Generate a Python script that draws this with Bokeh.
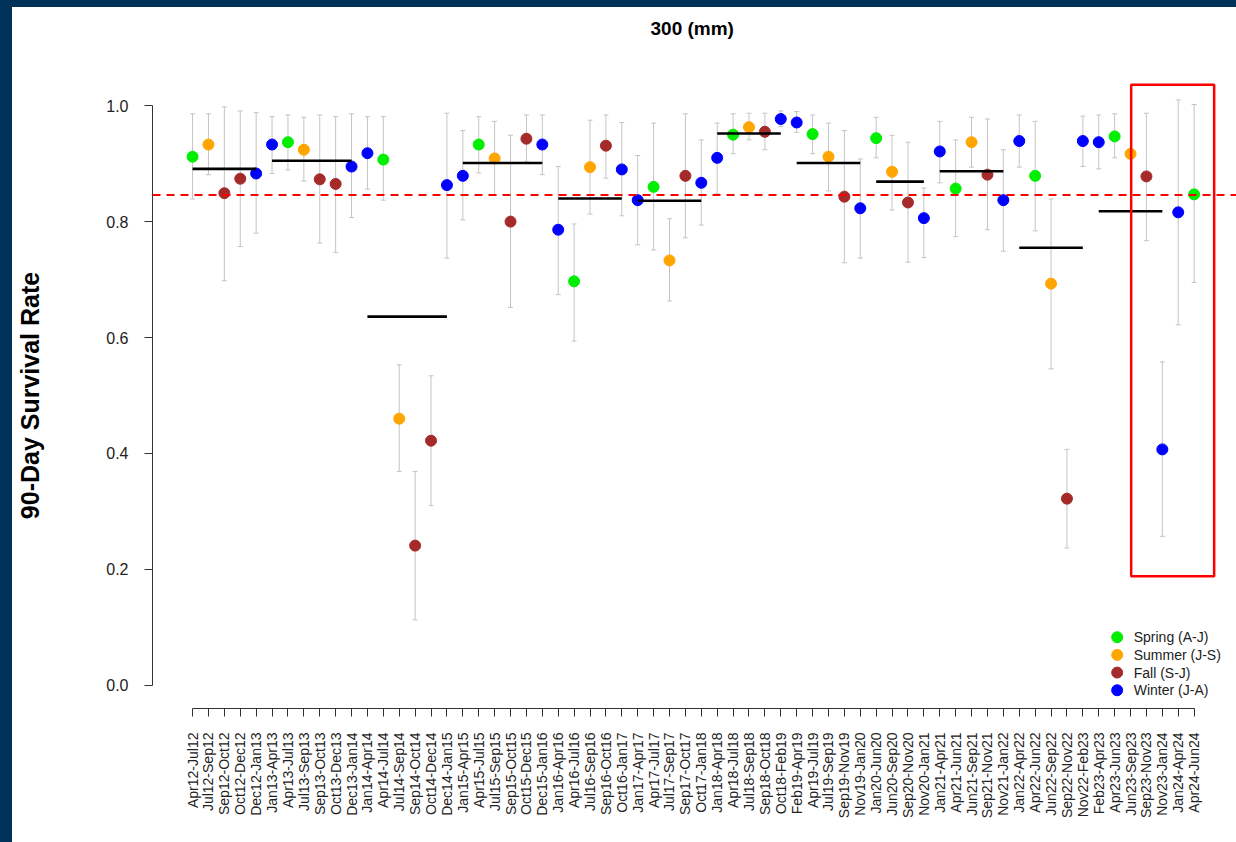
import math
from bokeh.plotting import figure
from bokeh.models import (ColumnDataSource, Range1d, FixedTicker, NumeralTickFormatter,
                          Whisker, TeeHead, Span, LinearAxis)
from bokeh.core.properties import value
from bokeh.embed import file_html
from bokeh.resources import INLINE

# ---------------- data ----------------
periods = [
    "Apr12-Jul12", "Jul12-Sep12", "Sep12-Oct12", "Oct12-Dec12", "Dec12-Jan13",
    "Jan13-Apr13", "Apr13-Jul13", "Jul13-Sep13", "Sep13-Oct13", "Oct13-Dec13", "Dec13-Jan14",
    "Jan14-Apr14", "Apr14-Jul14", "Jul14-Sep14", "Sep14-Oct14", "Oct14-Dec14", "Dec14-Jan15",
    "Jan15-Apr15", "Apr15-Jul15", "Jul15-Sep15", "Sep15-Oct15", "Oct15-Dec15", "Dec15-Jan16",
    "Jan16-Apr16", "Apr16-Jul16", "Jul16-Sep16", "Sep16-Oct16", "Oct16-Jan17",
    "Jan17-Apr17", "Apr17-Jul17", "Jul17-Sep17", "Sep17-Oct17", "Oct17-Jan18",
    "Jan18-Apr18", "Apr18-Jul18", "Jul18-Sep18", "Sep18-Oct18", "Oct18-Feb19",
    "Feb19-Apr19", "Apr19-Jul19", "Jul19-Sep19", "Sep19-Nov19", "Nov19-Jan20",
    "Jan20-Jun20", "Jun20-Sep20", "Sep20-Nov20", "Nov20-Jan21",
    "Jan21-Apr21", "Apr21-Jun21", "Jun21-Sep21", "Sep21-Nov21", "Nov21-Jan22",
    "Jan22-Apr22", "Apr22-Jun22", "Jun22-Sep22", "Sep22-Nov22", "Nov22-Feb23",
    "Feb23-Apr23", "Apr23-Jun23", "Jun23-Sep23", "Sep23-Nov23", "Nov23-Jan24",
    "Jan24-Apr24", "Apr24-Jun24",
]

seasons = [
    "Spring", "Summer", "Fall", "Fall", "Winter",
    "Winter", "Spring", "Summer", "Fall", "Fall", "Winter",
    "Winter", "Spring", "Summer", "Fall", "Fall", "Winter",
    "Winter", "Spring", "Summer", "Fall", "Fall", "Winter",
    "Winter", "Spring", "Summer", "Fall", "Winter",
    "Winter", "Spring", "Summer", "Fall", "Winter",
    "Winter", "Spring", "Summer", "Fall", "Winter",
    "Winter", "Spring", "Summer", "Fall", "Winter",
    "Spring", "Summer", "Fall", "Winter",
    "Winter", "Spring", "Summer", "Fall", "Winter",
    "Winter", "Spring", "Summer", "Fall", "Winter",
    "Winter", "Spring", "Summer", "Fall", "Winter",
    "Winter", "Spring",
]

survival = [
    0.912, 0.933, 0.849, 0.874, 0.883,
    0.933, 0.937, 0.924, 0.873, 0.865, 0.895,
    0.918, 0.907, 0.460, 0.241, 0.422, 0.863,
    0.879, 0.933, 0.909, 0.800, 0.943, 0.933,
    0.786, 0.697, 0.894, 0.931, 0.890,
    0.837, 0.860, 0.733, 0.879, 0.867,
    0.910, 0.950, 0.963, 0.955, 0.977,
    0.971, 0.951, 0.912, 0.843, 0.823,
    0.944, 0.886, 0.833, 0.806,
    0.921, 0.857, 0.937, 0.881, 0.837,
    0.939, 0.879, 0.693, 0.322, 0.939,
    0.937, 0.947, 0.917, 0.878, 0.407,
    0.816, 0.847,
]

nan = float("nan")
ci_lower = [
    0.839, 0.881, 0.698, 0.757, 0.780,
    0.883, 0.889, 0.870, 0.763, 0.747, 0.807,
    0.856, 0.837, 0.369, 0.113, 0.310, 0.737,
    0.803, 0.884, 0.845, 0.652, 0.903, 0.881,
    0.674, 0.594, 0.813, 0.875, 0.810,
    0.760, 0.751, 0.663, 0.772, 0.794,
    0.848, 0.917, 0.941, 0.924, 0.964,
    0.954, 0.917, 0.853, 0.729, 0.737,
    0.910, 0.820, 0.730, 0.738,
    0.867, 0.774, 0.894, 0.786, 0.749,
    0.894, 0.784, 0.546, 0.237, 0.895,
    0.891, 0.910, nan, 0.767, 0.257,
    0.622, 0.695,
]

ci_upper = [
    0.986, 0.986, 0.998, 0.991, 0.988,
    0.981, 0.984, 0.980, 0.984, 0.981, 0.986,
    0.981, 0.981, 0.553, 0.369, 0.534, 0.987,
    0.957, 0.981, 0.973, 0.949, 0.984, 0.984,
    0.895, 0.796, 0.975, 0.984, 0.971,
    0.914, 0.970, 0.805, 0.986, 0.941,
    0.970, 0.986, 0.987, 0.987, 0.991,
    0.990, 0.984, 0.970, 0.957, 0.908,
    0.980, 0.949, 0.937, 0.858,
    0.973, 0.941, 0.980, 0.977, 0.924,
    0.984, 0.973, 0.839, 0.407, 0.982,
    0.984, 0.986, nan, 0.987, 0.558,
    1.010, 1.002,
]

# yearly means (first period, last period, mean)
year_first = ["Apr12-Jul12", "Jan13-Apr13", "Jan14-Apr14", "Jan15-Apr15", "Jan16-Apr16",
              "Jan17-Apr17", "Jan18-Apr18", "Feb19-Apr19", "Jan20-Jun20", "Jan21-Apr21",
              "Jan22-Apr22", "Feb23-Apr23"]
year_last = ["Dec12-Jan13", "Dec13-Jan14", "Dec14-Jan15", "Dec15-Jan16", "Oct16-Jan17",
             "Oct17-Jan18", "Oct18-Feb19", "Nov19-Jan20", "Nov20-Jan21", "Nov21-Jan22",
             "Nov22-Feb23", "Nov23-Jan24"]
year_mean = [0.891, 0.905, 0.636, 0.901, 0.840, 0.836, 0.952, 0.901, 0.869, 0.887, 0.755, 0.818]

overall_mean = 0.846

season_names = ["Spring", "Summer", "Fall", "Winter"]
season_labels = ["Spring (A-J)", "Summer (J-S)", "Fall (S-J)", "Winter (J-A)"]
season_colors = ["#00ee00", "#ffa500", "#a52a2a", "#0000ff"]

highlight_first = "Jun23-Sep23"
highlight_last = "Apr24-Jun24"

title_text = "300 (mm)"
y_title = "90-Day Survival Rate"

# ---------------- figure ----------------
FONT = "Liberation Sans"
NAVY = "#003259"
xpos = list(range(1, len(periods) + 1))
pos_of = {name: i + 1 for i, name in enumerate(periods)}

p = figure(width=1236, height=842, output_backend="svg", toolbar_location=None,
           x_range=Range1d(-1.52, 67.42), y_range=Range1d(-0.04, 1.04),
           min_border_left=140, min_border_right=0, min_border_top=75, min_border_bottom=141)
p.styles = {"border-left": "12px solid " + NAVY, "border-top": "7px solid " + NAVY}
p.outline_line_color = None
p.xgrid.visible = False
p.ygrid.visible = False
p.background_fill_color = "white"
p.border_fill_color = "white"

# invisible spacer (white tick on white, no label) between the frame and the title
SPACER_TICK = -1
spacer = LinearAxis(ticker=FixedTicker(ticks=[SPACER_TICK]), axis_line_color=None,
                    major_tick_out=39, major_tick_in=0, major_tick_line_color="white",
                    major_label_standoff=0, major_label_overrides={SPACER_TICK: ""},
                    major_label_text_font_size="1px", minor_tick_out=0, minor_tick_in=0)
p.add_layout(spacer, "above")

# title
p.title.text = title_text
p.title.align = "left"
p.title.offset = 498
p.title.text_font = FONT
p.title.text_font_size = "19px"
p.title.text_font_style = "bold"
p.title.text_color = "black"
p.title.standoff = 10

# x axis
xa = p.below[0]
xa.ticker = FixedTicker(ticks=xpos)
xa.major_label_overrides = {i: name for i, name in zip(xpos, periods)}
xa.major_label_orientation = math.pi / 2
xa.bounds = (1, len(periods))
xa.minor_tick_line_color = None
xa.major_tick_in = 0
xa.major_tick_out = 8
xa.major_label_standoff = 16
xa.major_label_text_font = FONT
xa.major_label_text_font_size = "14px"
xa.major_label_text_color = "#222222"
xa.axis_line_color = "#333333"
xa.major_tick_line_color = "#333333"

# y axis
ya = p.left[0]
ya.ticker = FixedTicker(ticks=[0, 0.2, 0.4, 0.6, 0.8, 1.0])
ya.formatter = NumeralTickFormatter(format="0.0")
ya.bounds = (0, 1)
ya.minor_tick_line_color = None
ya.major_tick_in = 0
ya.major_tick_out = 8
ya.major_label_standoff = 16
ya.major_label_text_font = FONT
ya.major_label_text_font_size = "16px"
ya.major_label_text_color = "#222222"
ya.axis_line_color = "#333333"
ya.major_tick_line_color = "#333333"
ya.axis_label = y_title
ya.axis_label_text_font = FONT
ya.axis_label_text_font_size = "25px"
ya.axis_label_text_font_style = "bold"
ya.axis_label_text_color = "black"
ya.axis_label_standoff = 59

# error bars
err_src = ColumnDataSource(dict(x=xpos, lower=ci_lower, upper=ci_upper))
whisk = Whisker(base="x", lower="lower", upper="upper", source=err_src,
                line_color="#c4c4c4", line_width=1,
                upper_head=TeeHead(size=5, line_color="#c4c4c4", line_width=1),
                lower_head=TeeHead(size=5, line_color="#c4c4c4", line_width=1))
p.add_layout(whisk)

# points by season
for name, col in zip(season_names, season_colors):
    idx = [i for i, s in enumerate(seasons) if s == name]
    src = ColumnDataSource(dict(x=[xpos[i] for i in idx], y=[survival[i] for i in idx]))
    p.scatter("x", "y", source=src, size=11, fill_color=col, line_color=col)

# yearly mean lines
ysrc = ColumnDataSource(dict(x0=[pos_of[a] for a in year_first],
                             x1=[pos_of[b] for b in year_last],
                             y=year_mean))
p.segment(x0="x0", x1="x1", y0="y", y1="y", source=ysrc, line_color="black", line_width=2.6)

# overall mean
p.add_layout(Span(location=overall_mean, dimension="width", line_color="#ff0000",
                  line_width=2, line_dash="8 6"))

# highlight box
p.quad(left=[pos_of[highlight_first] + 0.04], right=[pos_of[highlight_last] + 1.26],
       bottom=[0.188], top=[1.036], fill_color=None, line_color="#ff0000", line_width=2.5)

# legend (keys drawn in the plot's data space, bottom-right corner)
LEG_KEY_X, LEG_TEXT_X, LEG_TOP, LEG_STEP = 59.16, 60.2, 0.083, 0.0305
leg_y = [LEG_TOP - k * LEG_STEP for k in range(len(season_labels))]
leg_src = ColumnDataSource(dict(kx=[LEG_KEY_X] * len(season_labels),
                                tx=[LEG_TEXT_X] * len(season_labels),
                                y=leg_y, label=season_labels, color=season_colors))
p.scatter("kx", "y", source=leg_src, size=11, fill_color="color", line_color="color")
p.text("tx", "y", text="label", source=leg_src, text_baseline="middle", text_align="left",
       text_font=value(FONT), text_font_size=value("14px"), text_color="#222222")

open("out.html", "w").write(file_html(p, INLINE))
